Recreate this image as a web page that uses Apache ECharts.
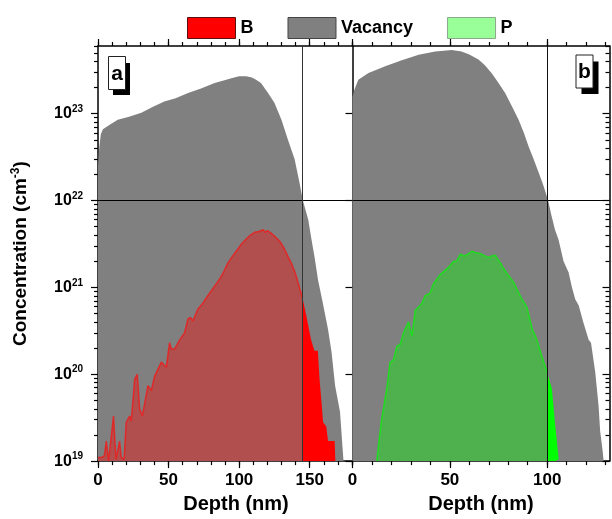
<!DOCTYPE html>
<html>
<head>
<meta charset="utf-8">
<script src="https://cdn.jsdelivr.net/npm/echarts@6.0.0/dist/echarts.min.js"></script>
<style>
  html, body { margin: 0; padding: 0; background: #fff; }
  #chart { width: 612px; height: 519px; }
</style>
</head>
<body>
<div id="chart"></div>
<script>
// depth (nm) / concentration (cm^-3)
// panel a : B implant
const vacancyA = [
  [0, 2.5e22], [1, 4.2e22], [2, 5.8e22], [3.5, 6.6e22], [8, 7.4e22], [14, 8.5e22], [22, 9.2e22],
  [30.7, 1.02e23], [39, 1.2e23], [47, 1.38e23], [55, 1.5e23], [63.8, 1.73e23], [73, 1.95e23],
  [82.7, 2.25e23], [89, 2.4e23], [94.5, 2.55e23], [100, 2.7e23], [105, 2.7e23], [109, 2.6e23],
  [112, 2.45e23], [115.5, 2.25e23], [120.5, 1.73e23], [125, 1.33e23], [130, 8.5e22], [134.6, 5e22],
  [139.3, 3e22], [142.8, 1.6e22], [145.2, 1e22], [149, 6e21], [151, 3.8e21], [153.5, 2.2e21],
  [156, 1.2e21], [159, 7e20], [163, 3.3e20], [165.5, 1.8e20], [168, 7.4e19], [170, 5e19],
  [171.5, 3.7e19], [173.2, 1.5e19], [174, 1e19]
];
const boronIn = [
  [0, 1.1e19], [2.5, 1.1e19], [4.5, 1.15e19], [5.9, 1.7e19], [7.5, 1e19], [8.5, 1e19], [11, 3.3e19],
  [12.7, 1.05e19], [13.5, 1e19], [15.3, 1.7e19], [16.5, 1.1e19], [18.5, 1.05e19], [20, 2.8e19],
  [22.4, 3.3e19], [23.6, 2.9e19], [26, 8.8e19], [27.8, 1e20], [29.5, 4e19], [31.4, 3.3e19],
  [35.4, 7.4e19], [37.8, 6.5e19], [40.2, 9.6e19], [44.9, 1.38e20], [48.4, 1.2e20], [50.7, 2.3e20],
  [52, 1.95e20], [54.3, 1.95e20], [58, 2.5e20], [61.4, 3e20], [63.7, 4.3e20], [65.5, 4.5e20],
  [67.2, 4.1e20], [70.7, 5.6e20], [74, 6.5e20], [77.8, 8e20], [82, 1e21], [86, 1.23e21],
  [89, 1.5e21], [92, 1.9e21], [95.5, 2.3e21], [99, 2.75e21], [102, 3.2e21], [105, 3.6e21],
  [108, 4e21], [111, 4.3e21], [114, 4.4e21], [117, 4.6e21], [118.5, 4.3e21], [120, 4.5e21],
  [122, 4.3e21], [125, 3.9e21], [128.8, 3.4e21], [132, 2.8e21], [135, 2.2e21], [137, 1.9e21],
  [139.5, 1.5e21], [141.7, 1.15e21], [143.5, 9e20], [145, 7.5e20]
];
const boronOut = [
  [145, 7.5e20], [147.6, 4.7e20], [149.5, 3.3e20], [151, 2.5e20], [153.4, 1.86e20], [155.8, 1.86e20],
  [157, 8.8e19], [158.5, 4.5e19], [159.5, 2.8e19], [161.8, 2.5e19], [163, 1.7e19], [167.7, 1.7e19],
  [168.2, 1e19]
];
// panel b : P implant
const vacancyB = [
  [0, 1.55e23], [1, 1.9e23], [3, 2.45e23], [8.2, 2.93e23], [16.8, 3.5e23], [25.3, 4.1e23],
  [34, 4.75e23], [42.5, 5.2e23], [51, 5.4e23], [56, 5.2e23], [60, 4.8e23], [64.7, 4.2e23],
  [68, 3.6e23], [71.6, 2.9e23], [75, 2.25e23], [78.4, 1.73e23], [82, 1.2e23], [85.3, 8.5e22],
  [88, 6e22], [90.4, 4.2e22], [93, 3e22], [95.6, 2.1e22], [98, 1.5e22], [100.5, 1e22], [102, 7e21],
  [104, 4.6e21], [105.8, 3.55e21], [108.4, 2e21], [111, 1.48e21], [112.7, 1e21], [114.4, 7.3e20],
  [116.2, 6.2e20], [118.5, 4e20], [121.3, 2.5e20], [122.5, 2.3e20], [124.7, 1.05e20],
  [126.4, 4.3e19], [127.2, 2.2e19], [128.5, 1.3e19], [129, 1e19]
];
const phosIn = [
  [12.5, 1e19], [13.5, 1.6e19], [15, 3.1e19], [16.3, 4.5e19], [17.6, 6.8e19], [19.3, 1.38e20],
  [21, 1.45e20], [22.8, 2.1e20], [24.5, 2.2e20], [26.2, 3e20], [28.8, 4e20], [30.5, 2.75e20],
  [32.2, 5.4e20], [35.6, 6.5e20], [37.3, 8e20], [39.8, 8.6e20], [41.6, 1.1e21], [45, 1.4e21],
  [49.3, 1.7e21], [51.9, 2e21], [53.5, 2e21], [55.3, 2.4e21], [57.8, 2.3e21], [61.3, 2.6e21],
  [63.5, 2.5e21], [65.5, 2.45e21], [68, 2.3e21], [69.9, 2.2e21], [71.5, 2.3e21], [73.3, 2.35e21],
  [76, 1.9e21], [78.4, 1.55e21], [82.7, 1.15e21], [87, 7.3e20], [88.5, 6.5e20], [89.6, 5.9e20],
  [92.3, 3.3e20], [94.7, 2.5e20], [97.3, 1.6e20], [100, 1.05e20]
];
const phosOut = [
  [100, 1.05e20], [102.4, 6.8e19], [104.1, 2.6e19], [105.9, 1.05e19], [106.5, 1e19]
];

// axes
const xMaxA = 180;
const xMaxB = 132;
const xMajorA = [0, 50, 100, 150];
const xMinorA = [0, 10, 20, 30, 40, 50, 60, 70, 80, 90, 100, 110, 120, 130, 140, 150, 160, 170, 180];
const xMajorB = [0, 50, 100];
const xMinorB = [0, 10, 20, 30, 40, 50, 60, 70, 80, 90, 100, 110, 120, 130];
const yMin = 1e19;
const yMax = 6e23;
const decades = [19, 20, 21, 22, 23];
const subFactors = [2, 3, 4, 5, 6, 7, 8, 9];
const cutA = 145; // vertical marker, panel a
const cutB = 100; // vertical marker, panel b
const refLevel = 1e22;

const font = "'Liberation Sans', Arial, sans-serif";
const yMaxExp = Math.log10(yMax);
const yMinorTicks = [];
decades.forEach(function (n) {
  subFactors.forEach(function (k) {
    const v = n + Math.log10(k);
    if (v <= yMaxExp) yMinorTicks.push(v);
  });
});

// tick-only axes (log10 space for y so the marks stay on the log axis)
function xTicks(grid, max, pos, values, len) {
  return {
    type: 'value', gridIndex: grid, position: pos, min: 0, max: max,
    axisLine: { show: false, onZero: false },
    axisLabel: { show: false },
    splitLine: { show: false },
    axisTick: { customValues: values, length: len, lineStyle: { color: '#000', width: 1.2 } }
  };
}
function yTicks(grid, pos, values, len, inside) {
  return {
    type: 'value', gridIndex: grid, position: pos, min: 19, max: yMaxExp,
    axisLine: { show: false, onZero: false },
    axisLabel: { show: false },
    splitLine: { show: false },
    axisTick: { customValues: values, length: len, inside: inside, lineStyle: { color: '#000', width: 1.2 } }
  };
}
function depthAxis(grid, max, majors, pad) {
  return {
    type: 'value', gridIndex: grid, position: 'bottom', min: 0, max: max,
    name: 'Depth (nm)', nameLocation: 'middle', nameGap: 31,
    nameTextStyle: { fontFamily: font, fontWeight: 'bold', fontSize: 20, color: '#000', padding: pad },
    axisLine: { onZero: false, lineStyle: { color: '#000', width: 1.5 } },
    axisTick: { customValues: majors, length: 7, lineStyle: { color: '#000', width: 1.2 } },
    axisLabel: { customValues: majors, margin: 11, fontFamily: font, fontWeight: 'bold', fontSize: 17, color: '#000' },
    splitLine: { show: false }
  };
}
function topAxis(grid, max, majors) {
  return {
    type: 'value', gridIndex: grid, position: 'top', min: 0, max: max,
    axisLine: { onZero: false, lineStyle: { color: '#000', width: 1.5 } },
    axisTick: { customValues: majors, length: 7, lineStyle: { color: '#000', width: 1.2 } },
    axisLabel: { show: false },
    splitLine: { show: false }
  };
}
function logAxis(grid, withLabels) {
  return {
    type: 'log', gridIndex: grid, position: 'left', min: yMin, max: yMax,
    name: withLabels ? 'Concentration (cm{s|-3})' : '',
    nameLocation: 'middle', nameGap: 66,
    nameTextStyle: {
      fontFamily: font, fontWeight: 'bold', fontSize: 19, color: '#000',
      rich: { s: { fontFamily: font, fontWeight: 'bold', fontSize: 12, color: '#000', padding: [0, 0, 10, 0] } }
    },
    axisLine: { onZero: false, lineStyle: { color: '#000', width: 1.5 } },
    axisTick: { show: false },
    splitLine: { show: false },
    axisLabel: {
      show: withLabels, margin: 15,
      formatter: function (v) {
        const e = Math.log10(v);
        if (Math.abs(e - Math.round(e)) > 0.01) return '';
        return '{b|10}{s|' + Math.round(e) + '}';
      },
      rich: {
        b: { fontFamily: font, fontWeight: 'bold', fontSize: 16, color: '#000' },
        s: { fontFamily: font, fontWeight: 'bold', fontSize: 10, color: '#000', padding: [0, 0, 9, 0] }
      }
    }
  };
}
function area(name, xi, yi, data, fill, line) {
  return {
    name: name, type: 'line', xAxisIndex: xi, yAxisIndex: yi, data: data,
    symbol: 'none', silent: true,
    lineStyle: line ? { color: line, width: 1.5 } : { width: 0 },
    itemStyle: { color: fill },
    areaStyle: { color: fill, opacity: 1, origin: 'start' }
  };
}
function markers(cut, vColor) {
  return {
    symbol: 'none', silent: true, label: { show: false },
    data: [
      { yAxis: refLevel, lineStyle: { color: '#000', width: 1.2, type: 'solid' } },
      { xAxis: cut, lineStyle: { color: vColor, width: 1, type: 'solid' } }
    ]
  };
}

const bOut = area('B', 0, 0, boronOut, '#ff0000');
bOut.markLine = markers(cutA, '#333');
const pOut = area('P', 4, 3, phosOut, '#00ff00');
pOut.markLine = markers(cutB, '#111');

const rightLine = {
  type: 'value', gridIndex: 1, position: 'right', min: 19, max: yMaxExp,
  axisLine: { show: true, onZero: false, lineStyle: { color: '#000', width: 1.5 } },
  axisLabel: { show: false }, splitLine: { show: false },
  axisTick: { customValues: decades, length: 7, inside: true, lineStyle: { color: '#000', width: 1.2 } }
};

const option = {
  animation: false,
  backgroundColor: '#fff',
  legend: {
    left: 182, top: 12, itemWidth: 48, itemHeight: 21, itemGap: 34, icon: 'rect',
    selectedMode: false,
    textStyle: { fontFamily: font, fontWeight: 'bold', fontSize: 18, color: '#000' },
    data: [
      { name: 'B', itemStyle: { color: '#ff0000', borderColor: '#5a1010', borderWidth: 1 } },
      { name: 'Vacancy', itemStyle: { color: '#808080', borderColor: '#444', borderWidth: 1 } },
      { name: 'P', itemStyle: { color: '#99ff99', borderColor: '#8aa88a', borderWidth: 1 } }
    ]
  },
  grid: [
    { left: 98, top: 46, width: 254, height: 416 },
    { left: 352.5, top: 46, width: 257, height: 416 }
  ],
  xAxis: [
    depthAxis(0, xMaxA, xMajorA, [0, 0, 0, 22]),
    xTicks(0, xMaxA, 'bottom', xMinorA, 4),
    topAxis(0, xMaxA, xMajorA),
    xTicks(0, xMaxA, 'top', xMinorA, 4),
    depthAxis(1, xMaxB, xMajorB, [0, 0, 0, 0]),
    xTicks(1, xMaxB, 'bottom', xMinorB, 4),
    topAxis(1, xMaxB, xMajorB),
    xTicks(1, xMaxB, 'top', xMinorB, 4)
  ],
  yAxis: [
    logAxis(0, true),
    yTicks(0, 'left', decades, 7, false),
    yTicks(0, 'left', yMinorTicks, 4, false),
    logAxis(1, false),
    yTicks(1, 'left', decades, 7, false),
    rightLine,
    yTicks(1, 'right', yMinorTicks, 4, true)
  ],
  series: [
    area('Vacancy', 0, 0, vacancyA, '#808080'),
    area('B', 0, 0, boronIn, 'rgba(255,0,0,0.39)', 'rgba(235,30,30,0.85)'),
    bOut,
    area('Vacancy', 4, 3, vacancyB, '#808080'),
    area('P', 4, 3, phosIn, 'rgba(0,255,0,0.39)', 'rgba(20,230,20,0.85)'),
    pOut
  ],
  graphic: [
    { type: 'rect', shape: { x: 113, y: 63, width: 17, height: 32 }, style: { fill: '#000' } },
    { type: 'rect', shape: { x: 108.5, y: 56.5, width: 17, height: 33 }, style: { fill: '#fff', stroke: '#222', lineWidth: 1 } },
    { type: 'text', x: 117, y: 74, style: { text: 'a', font: 'bold 21px ' + font, fill: '#000', align: 'center', verticalAlign: 'middle' } },
    { type: 'rect', shape: { x: 581.5, y: 61.5, width: 17, height: 32.5 }, style: { fill: '#000' } },
    { type: 'rect', shape: { x: 576, y: 55, width: 17, height: 33 }, style: { fill: '#fff', stroke: '#222', lineWidth: 1 } },
    { type: 'text', x: 584.5, y: 72, style: { text: 'b', font: 'bold 21px ' + font, fill: '#000', align: 'center', verticalAlign: 'middle' } }
  ]
};

const myChart = echarts.init(document.getElementById('chart'));
myChart.setOption(option);
</script>
</body>
</html>
